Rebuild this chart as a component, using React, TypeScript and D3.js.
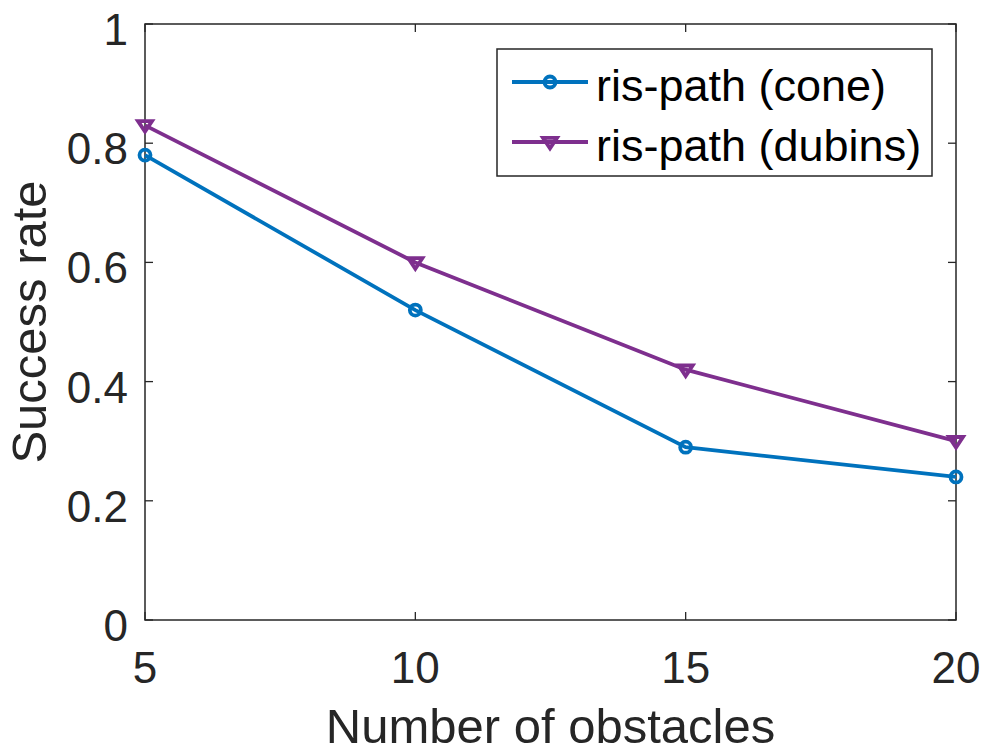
import React from "react";
import * as d3 from "d3";

const obstacles = [5, 10, 15, 20];
const coneRate = [0.78, 0.52, 0.29, 0.24];
const dubinsRate = [0.83, 0.6, 0.42, 0.3];
const xTicks = [5, 10, 15, 20];
const yTicks = [0, 0.2, 0.4, 0.6, 0.8, 1];
const seriesNames = ["ris-path (cone)", "ris-path (dubins)"];
const seriesColors = ["#0072BD", "#7E2F8E"];

const W = 984;
const H = 753;
const M = { left: 145, right: 956, top: 24, bottom: 620 };
const FONT = "'Liberation Sans', Arial, Helvetica, sans-serif";
const AXIS = "#262626";
const LW = 3.8;

export default function App() {
  const x = d3.scaleLinear().domain([5, 20]).range([M.left, M.right]);
  const y = d3.scaleLinear().domain([0, 1]).range([M.bottom, M.top]);
  const line = d3
    .line<number>()
    .x((_, i) => x(obstacles[i]))
    .y((v) => y(v));

  const tickLen = 8;
  const circle = (cx: number, cy: number, color: string, key: string) => (
    <circle key={key} cx={cx} cy={cy} r={5.5} fill="none" stroke={color} strokeWidth={3.8} />
  );
  const tri = (cx: number, cy: number, color: string, key: string) => {
    const s = 7;
    const p = `M${cx - s},${cy - s * 0.6} L${cx + s},${cy - s * 0.6} L${cx},${cy + s * 0.9} Z`;
    return <path key={key} d={p} fill="none" stroke={color} strokeWidth={3.8} strokeLinejoin="miter" />;
  };

  const legX = 497;
  const legY = 49;
  const legW = 435;
  const legH = 127;
  const rows = [82, 142];

  return (
    <svg width={W} height={H} style={{ position: "absolute", left: 0, top: 0, background: "#fff" }} fontFamily={FONT}>
      <rect x={0} y={0} width={W} height={H} fill="#fff" />
      {/* ticks and tick labels */}
      {yTicks.map((t) => (
        <g key={"yt" + t}>
          <line x1={M.left} x2={M.left + tickLen} y1={y(t)} y2={y(t)} stroke={AXIS} strokeWidth={1.3} />
          <line x1={M.right} x2={M.right - tickLen} y1={y(t)} y2={y(t)} stroke={AXIS} strokeWidth={1.3} />
          <text x={M.left - 17} y={y(t) + 21} textAnchor="end" fontSize={44} fill={AXIS}>
            {t}
          </text>
        </g>
      ))}
      {xTicks.map((t) => (
        <g key={"xt" + t}>
          <line x1={x(t)} x2={x(t)} y1={M.bottom} y2={M.bottom - tickLen} stroke={AXIS} strokeWidth={1.3} />
          <line x1={x(t)} x2={x(t)} y1={M.top} y2={M.top + tickLen} stroke={AXIS} strokeWidth={1.3} />
          <text x={x(t)} y={M.bottom + 63} textAnchor="middle" fontSize={44} fill={AXIS}>
            {t}
          </text>
        </g>
      ))}
      <rect x={M.left} y={M.top} width={M.right - M.left} height={M.bottom - M.top} fill="none" stroke={AXIS} strokeWidth={1.5} />

      {/* series */}
      <path d={line(coneRate) ?? ""} fill="none" stroke={seriesColors[0]} strokeWidth={LW} />
      <path d={line(dubinsRate) ?? ""} fill="none" stroke={seriesColors[1]} strokeWidth={LW} />
      {coneRate.map((v, i) => circle(x(obstacles[i]), y(v), seriesColors[0], "c" + i))}
      {dubinsRate.map((v, i) => tri(x(obstacles[i]), y(v), seriesColors[1], "d" + i))}

      {/* axis labels */}
      <text x={(M.left + M.right) / 2} y={743} textAnchor="middle" fontSize={49} fill={AXIS}>
        Number of obstacles
      </text>
      <text
        transform={`translate(46,${(M.top + M.bottom) / 2}) rotate(-90)`}
        textAnchor="middle"
        fontSize={49}
        fill={AXIS}
      >
        Success rate
      </text>

      {/* legend */}
      <rect x={legX} y={legY} width={legW} height={legH} fill="#fff" stroke={AXIS} strokeWidth={1.5} />
      {seriesNames.map((name, i) => (
        <g key={name}>
          <line x1={512} x2={588} y1={rows[i]} y2={rows[i]} stroke={seriesColors[i]} strokeWidth={LW} />
          {i === 0 ? circle(550, rows[i], seriesColors[i], "lc") : tri(550, rows[i], seriesColors[i], "lt")}
          <text x={596} y={rows[i] + 19} fontSize={45} fill="#000">
            {name}
          </text>
        </g>
      ))}
    </svg>
  );
}
